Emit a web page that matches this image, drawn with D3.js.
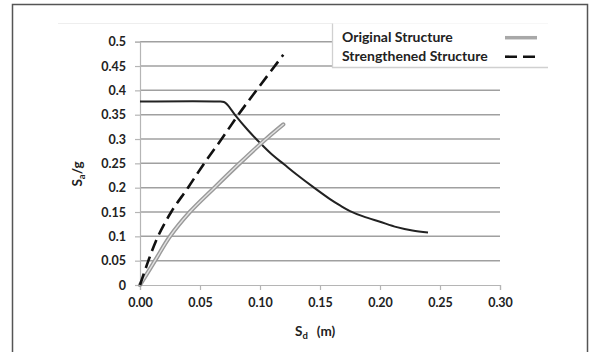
<!DOCTYPE html>
<html>
<head>
<meta charset="utf-8">
<script src="https://cdn.jsdelivr.net/npm/d3@7"></script>
<style>
  html, body { margin: 0; padding: 0; background: #fff; }
  svg { display: block; }
  text { font-family: Lato, "Open Sans", sans-serif; fill: #222; }
</style>
</head>
<body>
<svg id="chart" width="596" height="352"></svg>
<script>
// ---- data ----
const xTicks = [0, 0.05, 0.10, 0.15, 0.20, 0.25, 0.30];
const xTickLabels = ["0.00", "0.05", "0.10", "0.15", "0.20", "0.25", "0.30"];
const yTicks = [0, 0.05, 0.1, 0.15, 0.2, 0.25, 0.3, 0.35, 0.4, 0.45, 0.5];
const yTickLabels = ["0", "0.05", "0.1", "0.15", "0.2", "0.25", "0.3", "0.35", "0.4", "0.45", "0.5"];

const originalSd = [0, 0.0125, 0.025, 0.0415, 0.062, 0.083, 0.105, 0.1194];
const originalSa = [0, 0.05, 0.10, 0.15, 0.20, 0.25, 0.30, 0.33];

const strengthenedSd = [0, 0.007, 0.015, 0.026, 0.040, 0.0535, 0.068, 0.082, 0.097, 0.1194];
const strengthenedSa = [0, 0.05, 0.10, 0.15, 0.20, 0.25, 0.30, 0.35, 0.40, 0.473];

const demandSd = [0, 0.065, 0.070, 0.073, 0.080, 0.090, 0.100, 0.110, 0.120, 0.130, 0.145, 0.158, 0.167, 0.175, 0.186, 0.200, 0.214, 0.227, 0.240];
const demandSa = [0.377, 0.377, 0.376, 0.370, 0.347, 0.318, 0.292, 0.268, 0.248, 0.228, 0.200, 0.177, 0.163, 0.152, 0.141, 0.130, 0.119, 0.112, 0.108];

const legendLabels = ["Original Structure", "Strengthened Structure"];

// ---- drawing ----
const svg = d3.select("#chart");

// outer frame
svg.append("rect")
  .attr("x", 12.5).attr("y", 4.5).attr("width", 575).attr("height", 360)
  .attr("fill", "none").attr("stroke", "#555").attr("stroke-width", 1.5);

// faint plot-area top line
svg.append("line")
  .attr("x1", 58).attr("x2", 548).attr("y1", 23.5).attr("y2", 23.5)
  .attr("stroke", "#eee").attr("stroke-width", 1);

const x = d3.scaleLinear().domain([0, 0.3]).range([140, 500]);
const y = d3.scaleLinear().domain([0, 0.5]).range([285, 41.7]);

// gridlines
svg.append("g")
  .selectAll("line")
  .data(yTicks.slice(1))
  .join("line")
  .attr("x1", x(0)).attr("x2", x(0.3))
  .attr("y1", d => y(d)).attr("y2", d => y(d))
  .attr("stroke", "#a0a0a0").attr("stroke-width", 1.5);

const tickFont = sel => sel
  .attr("font-family", "Lato, sans-serif").attr("font-size", 12.5)
  .attr("font-weight", 700).attr("fill", "#2a2a2a");

// y axis
const yAxis = d3.axisLeft(y).tickValues(yTicks)
  .tickFormat((d, i) => yTickLabels[i]).tickSize(5).tickPadding(9);
const gy = svg.append("g").attr("transform", `translate(${x(0)},0)`).call(yAxis);
gy.select(".domain").attr("stroke", "#b5b5b5").attr("stroke-width", 1.2);
gy.selectAll(".tick line").attr("stroke", "#b5b5b5").attr("stroke-width", 1.2);
gy.selectAll(".tick text").call(tickFont);

// x axis
const xAxis = d3.axisBottom(x).tickValues(xTicks)
  .tickFormat((d, i) => xTickLabels[i]).tickSize(5).tickPadding(8);
const gx = svg.append("g").attr("transform", `translate(0,${y(0)})`).call(xAxis);
gx.select(".domain").attr("stroke", "#b5b5b5").attr("stroke-width", 1.2);
gx.selectAll(".tick line").attr("stroke", "#b5b5b5").attr("stroke-width", 1.2);
gx.selectAll(".tick text").call(tickFont);

const line = d3.line().x(d => x(d[0])).y(d => y(d[1])).curve(d3.curveCatmullRom.alpha(0.5));

// demand (capacity) curve
const demand = demandSd.map((d, i) => [d, demandSa[i]]);
svg.append("path").datum(demand).attr("d", line)
  .attr("fill", "none").attr("stroke", "#222").attr("stroke-width", 2)
  .attr("stroke-linejoin", "round");

// original structure: double gray line
const original = originalSd.map((d, i) => [d, originalSa[i]]);
svg.append("path").datum(original).attr("d", line)
  .attr("fill", "none").attr("stroke", "#9a9a9a").attr("stroke-width", 4.2)
  .attr("stroke-linecap", "round");
svg.append("path").datum(original).attr("d", line)
  .attr("fill", "none").attr("stroke", "#e2e2e2").attr("stroke-width", 1.4)
  .attr("stroke-linecap", "round");

// strengthened structure: dashed black
const strengthened = strengthenedSd.map((d, i) => [d, strengthenedSa[i]]);
svg.append("path").datum(strengthened).attr("d", line)
  .attr("fill", "none").attr("stroke", "#111").attr("stroke-width", 2.6)
  .attr("stroke-dasharray", "12,6");

// legend
const lg = svg.append("g");
lg.append("rect").attr("x", 332).attr("y", 23.5).attr("width", 216).attr("height", 44)
  .attr("fill", "#fff").attr("stroke", "none");
lg.append("path").attr("d", "M332.5,23.5 V67.5 H548")
  .attr("fill", "none").attr("stroke", "#d0d0d0").attr("stroke-width", 1.3);
lg.append("text").attr("x", 342).attr("y", 42)
  .attr("font-size", 14).attr("font-weight", 700).attr("fill", "#2a2a2a")
  .text(legendLabels[0]);
lg.append("text").attr("x", 342).attr("y", 60.5)
  .attr("font-size", 14).attr("font-weight", 700).attr("fill", "#2a2a2a")
  .text(legendLabels[1]);
lg.append("line").attr("x1", 505).attr("x2", 537).attr("y1", 37.7).attr("y2", 37.7)
  .attr("stroke", "#a8a8a8").attr("stroke-width", 3.5);
lg.append("line").attr("x1", 505).attr("x2", 537).attr("y1", 56.7).attr("y2", 56.7)
  .attr("stroke", "#111").attr("stroke-width", 2.6).attr("stroke-dasharray", "12,6");

// axis titles
const xt = svg.append("text").attr("x", 295).attr("y", 336)
  .attr("font-size", 13.5).attr("font-weight", 700).attr("fill", "#2a2a2a");
xt.append("tspan").text("S");
xt.append("tspan").attr("font-size", 9.5).attr("dy", 2.5).text("d");
xt.append("tspan").attr("dy", -2.5).attr("dx", 9).text("(m)");

const yt = svg.append("text")
  .attr("transform", "translate(82,174) rotate(-90)")
  .attr("text-anchor", "middle")
  .attr("font-size", 13.5).attr("font-weight", 700).attr("fill", "#2a2a2a");
yt.append("tspan").text("S");
yt.append("tspan").attr("font-size", 9.5).attr("dy", 2.5).text("a");
yt.append("tspan").attr("dy", -2.5).text("/g");
</script>
</body>
</html>
